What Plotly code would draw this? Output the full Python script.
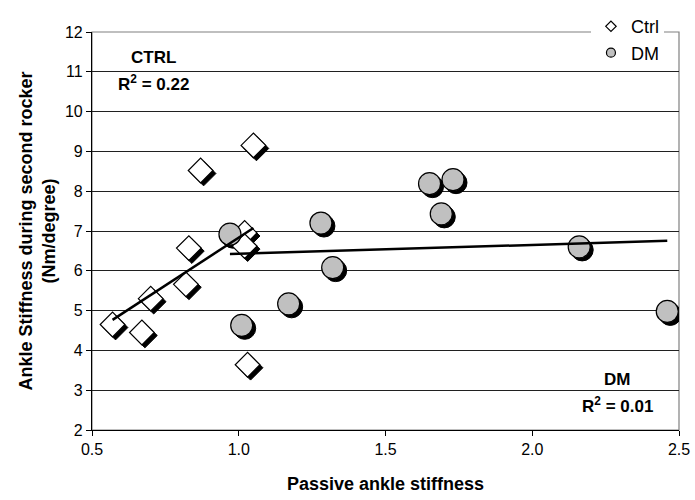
import numpy as np
import plotly.graph_objects as go

# Ctrl group (diamonds)
ctrl_x = [0.57, 0.67, 0.70, 0.82, 0.83, 0.87, 1.02, 1.02, 1.05, 1.03]
ctrl_y = [4.65, 4.45, 5.30, 5.66, 6.57, 8.52, 6.95, 6.62, 9.15, 3.64]

# DM group (circles)
dm_x = [0.97, 1.01, 1.17, 1.28, 1.32, 1.65, 1.73, 1.69, 2.16, 2.46]
dm_y = [6.92, 4.63, 5.17, 7.20, 6.08, 8.19, 8.29, 7.43, 6.60, 4.98]

x_range = [0.5, 2.5]
y_range = [2, 12]
x_ticks = [0.5, 1.0, 1.5, 2.0, 2.5]
x_tick_text = ["0.5", "1.0", "1.5", "2.0", "2.5"]

FONT = "Arial, Liberation Sans, sans-serif"
W, H = 695, 500
M = dict(l=92, r=16, t=32, b=70, autoexpand=False)

# shadow offset of ~3px expressed in data units
px_x = (x_range[1] - x_range[0]) / (W - M["l"] - M["r"])
px_y = (y_range[1] - y_range[0]) / (H - M["t"] - M["b"])
sx, sy = 3 * px_x, 3 * px_y


def fit_line(xs, ys):
    k, b = np.polyfit(xs, ys, 1)
    xx = np.array([min(xs), max(xs)])
    return xx, k * xx + b


fig = go.Figure()

# shadows
fig.add_trace(go.Scatter(x=np.array(ctrl_x) + sx, y=np.array(ctrl_y) - sy, mode="markers",
                         marker=dict(symbol="diamond", size=19, color="black",
                                     line=dict(color="black", width=1)),
                         showlegend=False, hoverinfo="skip"))
fig.add_trace(go.Scatter(x=np.array(dm_x) + sx, y=np.array(dm_y) - sy, mode="markers",
                         marker=dict(symbol="circle", size=22, color="black",
                                     line=dict(color="black", width=1)),
                         showlegend=False, hoverinfo="skip"))

# markers
fig.add_trace(go.Scatter(x=ctrl_x, y=ctrl_y, mode="markers", name="Ctrl",
                         marker=dict(symbol="diamond", size=19, color="white",
                                     line=dict(color="black", width=1.2)),
                         showlegend=False))
fig.add_trace(go.Scatter(x=dm_x, y=dm_y, mode="markers", name="DM",
                         marker=dict(symbol="circle", size=22, color="#c0c0c0",
                                     line=dict(color="black", width=1.2)),
                         showlegend=False))

# trend lines
for xs, ys in [(ctrl_x, ctrl_y), (dm_x, dm_y)]:
    lx, ly = fit_line(xs, ys)
    fig.add_trace(go.Scatter(x=lx, y=ly, mode="lines",
                             line=dict(color="black", width=2.5),
                             showlegend=False, hoverinfo="skip"))

# legend entries with small symbols
fig.add_trace(go.Scatter(x=[None], y=[None], mode="markers", name="Ctrl",
                         marker=dict(symbol="diamond", size=8, color="white",
                                     line=dict(color="black", width=1.2))))
fig.add_trace(go.Scatter(x=[None], y=[None], mode="markers", name="DM",
                         marker=dict(symbol="circle", size=9, color="#c0c0c0",
                                     line=dict(color="black", width=1.2))))

# plot frame (top/right grey)
fig.add_shape(type="rect", xref="paper", yref="paper", x0=0, y0=0, x1=1, y1=1,
              line=dict(color="#808080", width=1.2), layer="below")

annots = [
    (0.71, 11.37, "<b>CTRL</b>"),
    (0.71, 10.71, "<b>R<sup>2</sup> = 0.22</b>"),
    (2.29, 3.27, "<b>DM</b>"),
    (2.29, 2.64, "<b>R<sup>2</sup> = 0.01</b>"),
]
for ax, ay, txt in annots:
    fig.add_annotation(x=ax, y=ay, text=txt, showarrow=False,
                       font=dict(family=FONT, size=17, color="black"))

fig.update_layout(
    width=W, height=H, margin=M,
    paper_bgcolor="white", plot_bgcolor="white",
    font=dict(family=FONT, size=17, color="black"),
    legend=dict(x=0.85, y=1.06, xanchor="left", yanchor="top",
                bgcolor="white", borderwidth=0, font=dict(size=18),
                itemwidth=30, tracegroupgap=0),
    xaxis=dict(range=x_range, tickvals=x_ticks, ticktext=x_tick_text,
               showgrid=False, zeroline=False, showline=True, linecolor="black",
               linewidth=1.2, ticks="outside", ticklen=5, tickcolor="black",
               tickfont=dict(size=16), ticklabeloverflow="allow",
               title=dict(text="<b>Passive ankle stiffness</b>", font=dict(size=18), standoff=20)),
    yaxis=dict(range=y_range, dtick=1, showgrid=True, gridcolor="#202020", gridwidth=1,
               zeroline=False, showline=True, linecolor="black", linewidth=1.2,
               ticks="outside", ticklen=5, tickcolor="black",
               tickfont=dict(size=16),
               title=dict(text="<b>Ankle Stiffness during second rocker<br>(Nm/degree)</b>",
                          font=dict(size=18), standoff=4)),
)

# page body has a default margin; drop it so the figure fills the window
fig.write_html("out.html", config={"displayModeBar": False},
               post_script="document.body.style.margin='0';")
